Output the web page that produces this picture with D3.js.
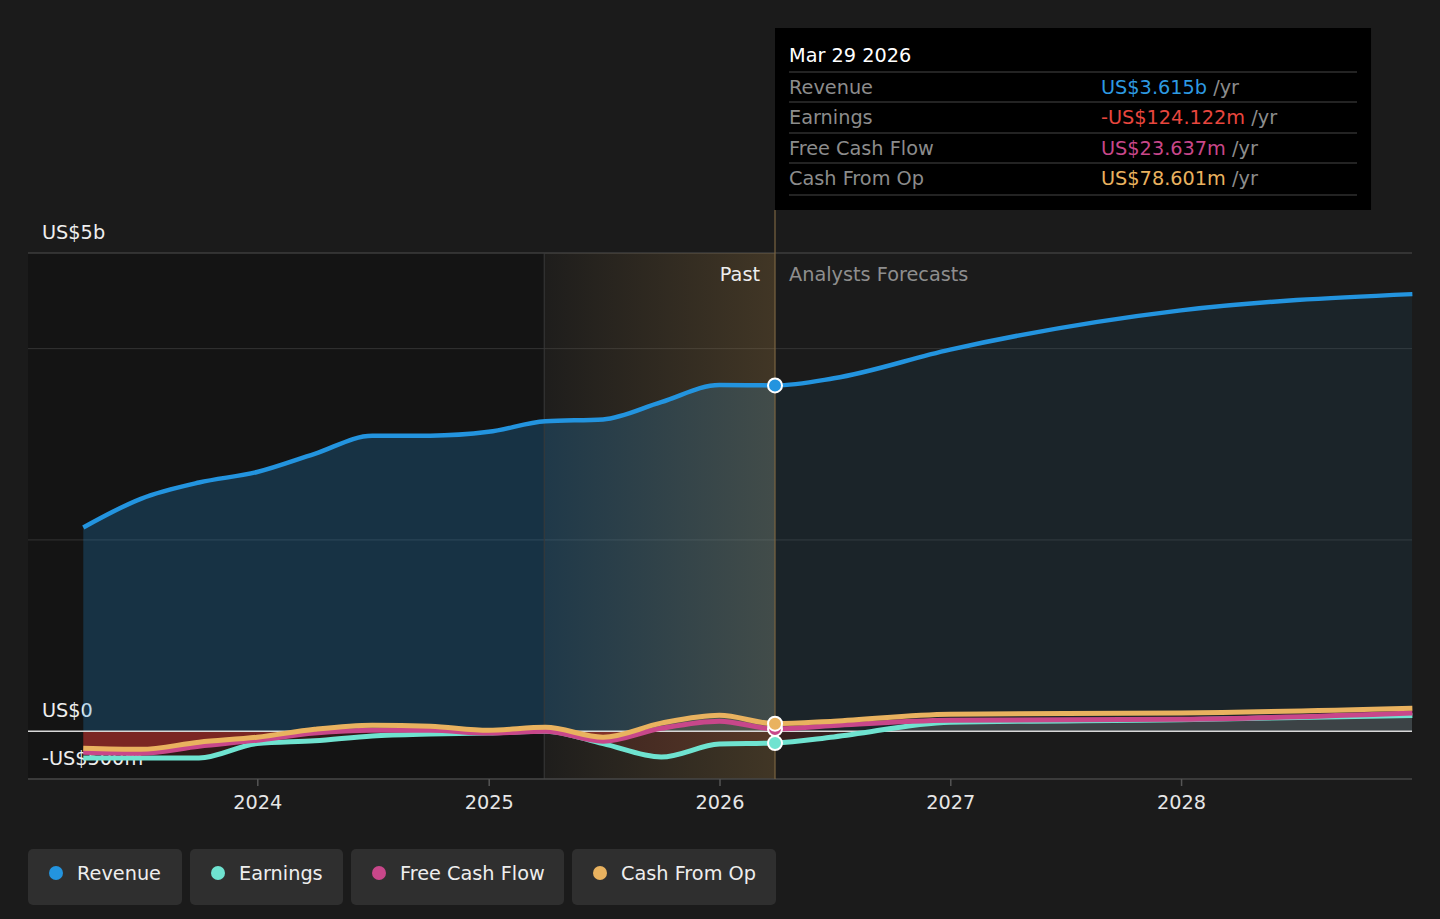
<!DOCTYPE html>
<html>
<head>
<meta charset="utf-8">
<script src="https://cdn.jsdelivr.net/npm/d3@7"></script>
<style>
  html, body { margin: 0; padding: 0; background: #1b1b1b; }
  svg { display: block; font-family: "DejaVu Sans", sans-serif; }
</style>
</head>
<body>
<svg id="chart" width="1440" height="919"></svg>
<script>
// ---- data (values in US$ billions) ----
const pastDates = ["2023-03-31", "2023-06-30", "2023-09-30", "2023-12-31", "2024-03-31", "2024-06-30",
                   "2024-09-30", "2024-12-31", "2025-03-31", "2025-06-30", "2025-09-30", "2025-12-31", "2026-03-29"];
const pastRevenue  = [2.13, 2.43, 2.60, 2.71, 2.90, 3.09, 3.09, 3.13, 3.24, 3.26, 3.44, 3.62, 3.615];
const pastEarnings = [-0.28, -0.28, -0.28, -0.13, -0.10, -0.05, -0.03, -0.02, 0.0, -0.13, -0.27, -0.135, -0.124];
const pastFcf      = [-0.22, -0.23, -0.157, -0.094, -0.02, 0.01, 0.01, -0.02, 0.0, -0.105, 0.03, 0.105, 0.0236];
const pastCfo      = [-0.178, -0.19, -0.115, -0.063, 0.02, 0.063, 0.052, 0.01, 0.04, -0.063, 0.084, 0.167, 0.0786];

const fcstDates    = ["2026-03-29", "2026-06-30", "2026-12-31", "2027-12-31", "2028-12-31"];
const fcstRevenue  = [3.615, 3.69, 3.99, 4.40, 4.57];
const fcstEarnings = [-0.124, -0.06, 0.094, 0.12, 0.165];
const fcstFcf      = [0.0236, 0.06, 0.115, 0.125, 0.19];
const fcstCfo      = [0.0786, 0.105, 0.178, 0.19, 0.24];

const seriesNames  = ["Revenue", "Earnings", "Free Cash Flow", "Cash From Op"];
const seriesColors = ["#2394df", "#6fe3d0", "#c8478a", "#e9b25f"];
const tipValues    = ["US$3.615b", "-US$124.122m", "US$23.637m", "US$78.601m"];
const tipColors    = ["#2d9ae2", "#e8463e", "#c8478a", "#e9b25f"];
const tipDate      = "Mar 29 2026";

const yTicks      = [5, 0, -0.5];
const yTickLabels = ["US$5b", "US$0", "-US$500m"];
const gridValues  = [4, 2];
const yearTicks   = ["2024", "2025", "2026", "2027", "2028"];
const bandStart   = "2025-03-29";
const nowDate     = "2026-03-29";

// ---- setup ----
const parse = d3.timeParse("%Y-%m-%d");
const svg = d3.select("#chart");
const left = 28, right = 1412;
const FS = 19.3;

const x = d3.scaleTime()
  .domain([parse("2023-01-01"), parse("2029-01-01")])
  .range([27, 1413]);
const y = d3.scaleLinear().domain([-0.5, 5]).range([779, 253]);

const toPts = (dates, vals) => dates.map((d, i) => ({ t: parse(d), v: vals[i] }));
const past = [pastRevenue, pastEarnings, pastFcf, pastCfo].map(v => toPts(pastDates, v));
const fcst = [fcstRevenue, fcstEarnings, fcstFcf, fcstCfo].map(v => toPts(fcstDates, v));
const full = past.map((p, i) => p.concat(fcst[i].slice(1)));

const xBand = x(parse(bandStart));
const xNow = x(parse(nowDate));

const defs = svg.append("defs");
const bandGrad = defs.append("linearGradient").attr("id", "bandGrad");
bandGrad.append("stop").attr("offset", "0%").attr("stop-color", "#c8964a").attr("stop-opacity", 0.02);
bandGrad.append("stop").attr("offset", "100%").attr("stop-color", "#c8964a").attr("stop-opacity", 0.22);

defs.append("clipPath").attr("id", "clipPast").append("rect")
  .attr("x", left).attr("y", 0).attr("width", xNow - left).attr("height", 919);
defs.append("clipPath").attr("id", "clipFcst").append("rect")
  .attr("x", xNow).attr("y", 0).attr("width", right - xNow).attr("height", 919);
defs.append("clipPath").attr("id", "clipPos").append("rect")
  .attr("x", left).attr("y", 0).attr("width", right - left).attr("height", y(0));
defs.append("clipPath").attr("id", "clipNeg").append("rect")
  .attr("x", left).attr("y", y(0)).attr("width", right - left).attr("height", 919 - y(0));

// past dark region
svg.append("rect")
  .attr("x", left).attr("y", y(5)).attr("width", xBand - left).attr("height", y(-0.5) - y(5))
  .attr("fill", "#141414");

// grid
svg.selectAll(".grid").data(gridValues).join("line")
  .attr("x1", left).attr("x2", right)
  .attr("y1", d => y(d)).attr("y2", d => y(d))
  .attr("stroke", "#343434").attr("stroke-width", 1);
svg.append("line")
  .attr("x1", left).attr("x2", right).attr("y1", y(5)).attr("y2", y(5))
  .attr("stroke", "#4e4e4e").attr("stroke-width", 1.2);

// y labels (drawn under lines)
svg.selectAll(".ylab").data(yTicks).join("text")
  .attr("x", 42).attr("y", d => y(d) - 21)
  .attr("dy", "0.35em")
  .attr("fill", "#eeeeee").attr("font-size", FS)
  .text((d, i) => yTickLabels[i]);

const curve = d3.curveMonotoneX;
const area = d3.area().curve(curve).x(d => x(d.t)).y0(y(0)).y1(d => y(d.v));
const line = d3.line().curve(curve).x(d => x(d.t)).y(d => y(d.v));

// revenue area
svg.append("path").datum(full[0]).attr("d", area)
  .attr("fill", "#2394df").attr("fill-opacity", 0.24).attr("clip-path", "url(#clipPast)");
svg.append("path").datum(full[0]).attr("d", area)
  .attr("fill", "#2394df").attr("fill-opacity", 0.08).attr("clip-path", "url(#clipFcst)");

// small-series areas: negative part red, positive part grey
svg.append("path").datum(full[2]).attr("d", area)
  .attr("fill", "#b8322c").attr("fill-opacity", 0.55).attr("clip-path", "url(#clipNeg)");
svg.append("path").datum(full[1]).attr("d", area)
  .attr("fill", "#b8322c").attr("fill-opacity", 0.18).attr("clip-path", "url(#clipNeg)");
svg.append("g").attr("clip-path", "url(#clipPos)")
  .append("path").datum(full[1]).attr("d", area)
  .attr("fill", "#8a8a8a").attr("fill-opacity", 0.3);
svg.append("g").attr("clip-path", "url(#clipPos)")
  .append("path").datum(full[3]).attr("d", area)
  .attr("fill", "#e9b25f").attr("fill-opacity", 0.12).attr("clip-path", "url(#clipPast)");

// highlight band (last 12 months)
svg.append("rect")
  .attr("x", xBand).attr("y", y(5)).attr("width", xNow - xBand).attr("height", y(-0.5) - y(5))
  .attr("fill", "url(#bandGrad)");
svg.append("line")
  .attr("x1", xBand).attr("x2", xBand).attr("y1", y(5)).attr("y2", y(-0.5))
  .attr("stroke", "#3a3a3a").attr("stroke-width", 1);

// zero line
svg.append("line")
  .attr("x1", left).attr("x2", right).attr("y1", y(0)).attr("y2", y(0))
  .attr("stroke", "#d8d8d8").attr("stroke-width", 1.5);

// bottom axis
const xAxis = svg.append("g").attr("transform", `translate(0,${y(-0.5)})`);
xAxis.append("line").attr("x1", left).attr("x2", right)
  .attr("stroke", "#474747").attr("stroke-width", 1.5);
const ticks = yearTicks.map(s => parse(s + "-01-01"));
xAxis.selectAll(".tk").data(ticks).join("line")
  .attr("x1", d => x(d)).attr("x2", d => x(d)).attr("y1", 0).attr("y2", 7)
  .attr("stroke", "#555").attr("stroke-width", 1.5);
xAxis.selectAll(".tl").data(ticks).join("text")
  .attr("x", d => x(d)).attr("y", 23).attr("dy", "0.35em")
  .attr("text-anchor", "middle").attr("fill", "#e6e6e6").attr("font-size", FS)
  .text((d, i) => yearTicks[i]);

// lines
const drawOrder = [1, 2, 3, 0];
drawOrder.forEach(i => {
  svg.append("path").datum(full[i]).attr("d", line)
    .attr("fill", "none").attr("stroke", seriesColors[i])
    .attr("stroke-width", i === 0 ? 4.5 : 5);
});

// now line
svg.append("line")
  .attr("x1", xNow).attr("x2", xNow).attr("y1", 210).attr("y2", y(-0.5))
  .attr("stroke", "#7a6440").attr("stroke-width", 1.2);

// markers at now
[2, 1, 3, 0].forEach(i => {
  const p = past[i][past[i].length - 1];
  svg.append("circle").attr("cx", x(p.t)).attr("cy", y(p.v)).attr("r", 7)
    .attr("fill", seriesColors[i]).attr("stroke", "#ffffff").attr("stroke-width", 2);
});

// Past / Analysts Forecasts
svg.append("text").attr("x", xNow - 15).attr("y", 274).attr("dy", "0.35em")
  .attr("text-anchor", "end").attr("fill", "#eeeeee").attr("font-size", FS).text("Past");
svg.append("text").attr("x", xNow + 14).attr("y", 274).attr("dy", "0.35em")
  .attr("fill", "#8e8e8e").attr("font-size", FS).text("Analysts Forecasts");

// tooltip
const tip = svg.append("g");
tip.append("rect").attr("x", xNow).attr("y", 28).attr("width", 596).attr("height", 182).attr("fill", "#000");
tip.append("text").attr("x", 789).attr("y", 55).attr("dy", "0.35em")
  .attr("fill", "#ffffff").attr("font-size", FS).text(tipDate);
const rowY = [87, 117, 148, 178];
const sepY = [72, 102, 133, 163, 195];
tip.selectAll(".sep").data(sepY).join("line")
  .attr("x1", 789).attr("x2", 1357).attr("y1", d => d).attr("y2", d => d)
  .attr("stroke", "#474747").attr("stroke-width", 1.2);
seriesNames.forEach((n, i) => {
  tip.append("text").attr("x", 789).attr("y", rowY[i]).attr("dy", "0.35em")
    .attr("fill", "#8c8c8c").attr("font-size", FS).text(n);
  const t = tip.append("text").attr("x", 1101).attr("y", rowY[i]).attr("dy", "0.35em")
    .attr("font-size", FS);
  t.append("tspan").attr("fill", tipColors[i]).text(tipValues[i]);
  t.append("tspan").attr("fill", "#8c8c8c").text(" /yr");
});

// legend
const legX = [28, 190, 351, 572];
const legW = [154, 153, 213, 204];
const leg = svg.append("g");
seriesNames.forEach((n, i) => {
  const g = leg.append("g").attr("transform", `translate(${legX[i]},849)`);
  g.append("rect").attr("width", legW[i]).attr("height", 56).attr("rx", 5).attr("fill", "#2f2f2f");
  g.append("circle").attr("cx", 28).attr("cy", 24).attr("r", 7).attr("fill", seriesColors[i]);
  g.append("text").attr("x", 49).attr("y", 24).attr("dy", "0.35em")
    .attr("fill", "#eeeeee").attr("font-size", FS).text(n);
});
</script>
</body>
</html>
